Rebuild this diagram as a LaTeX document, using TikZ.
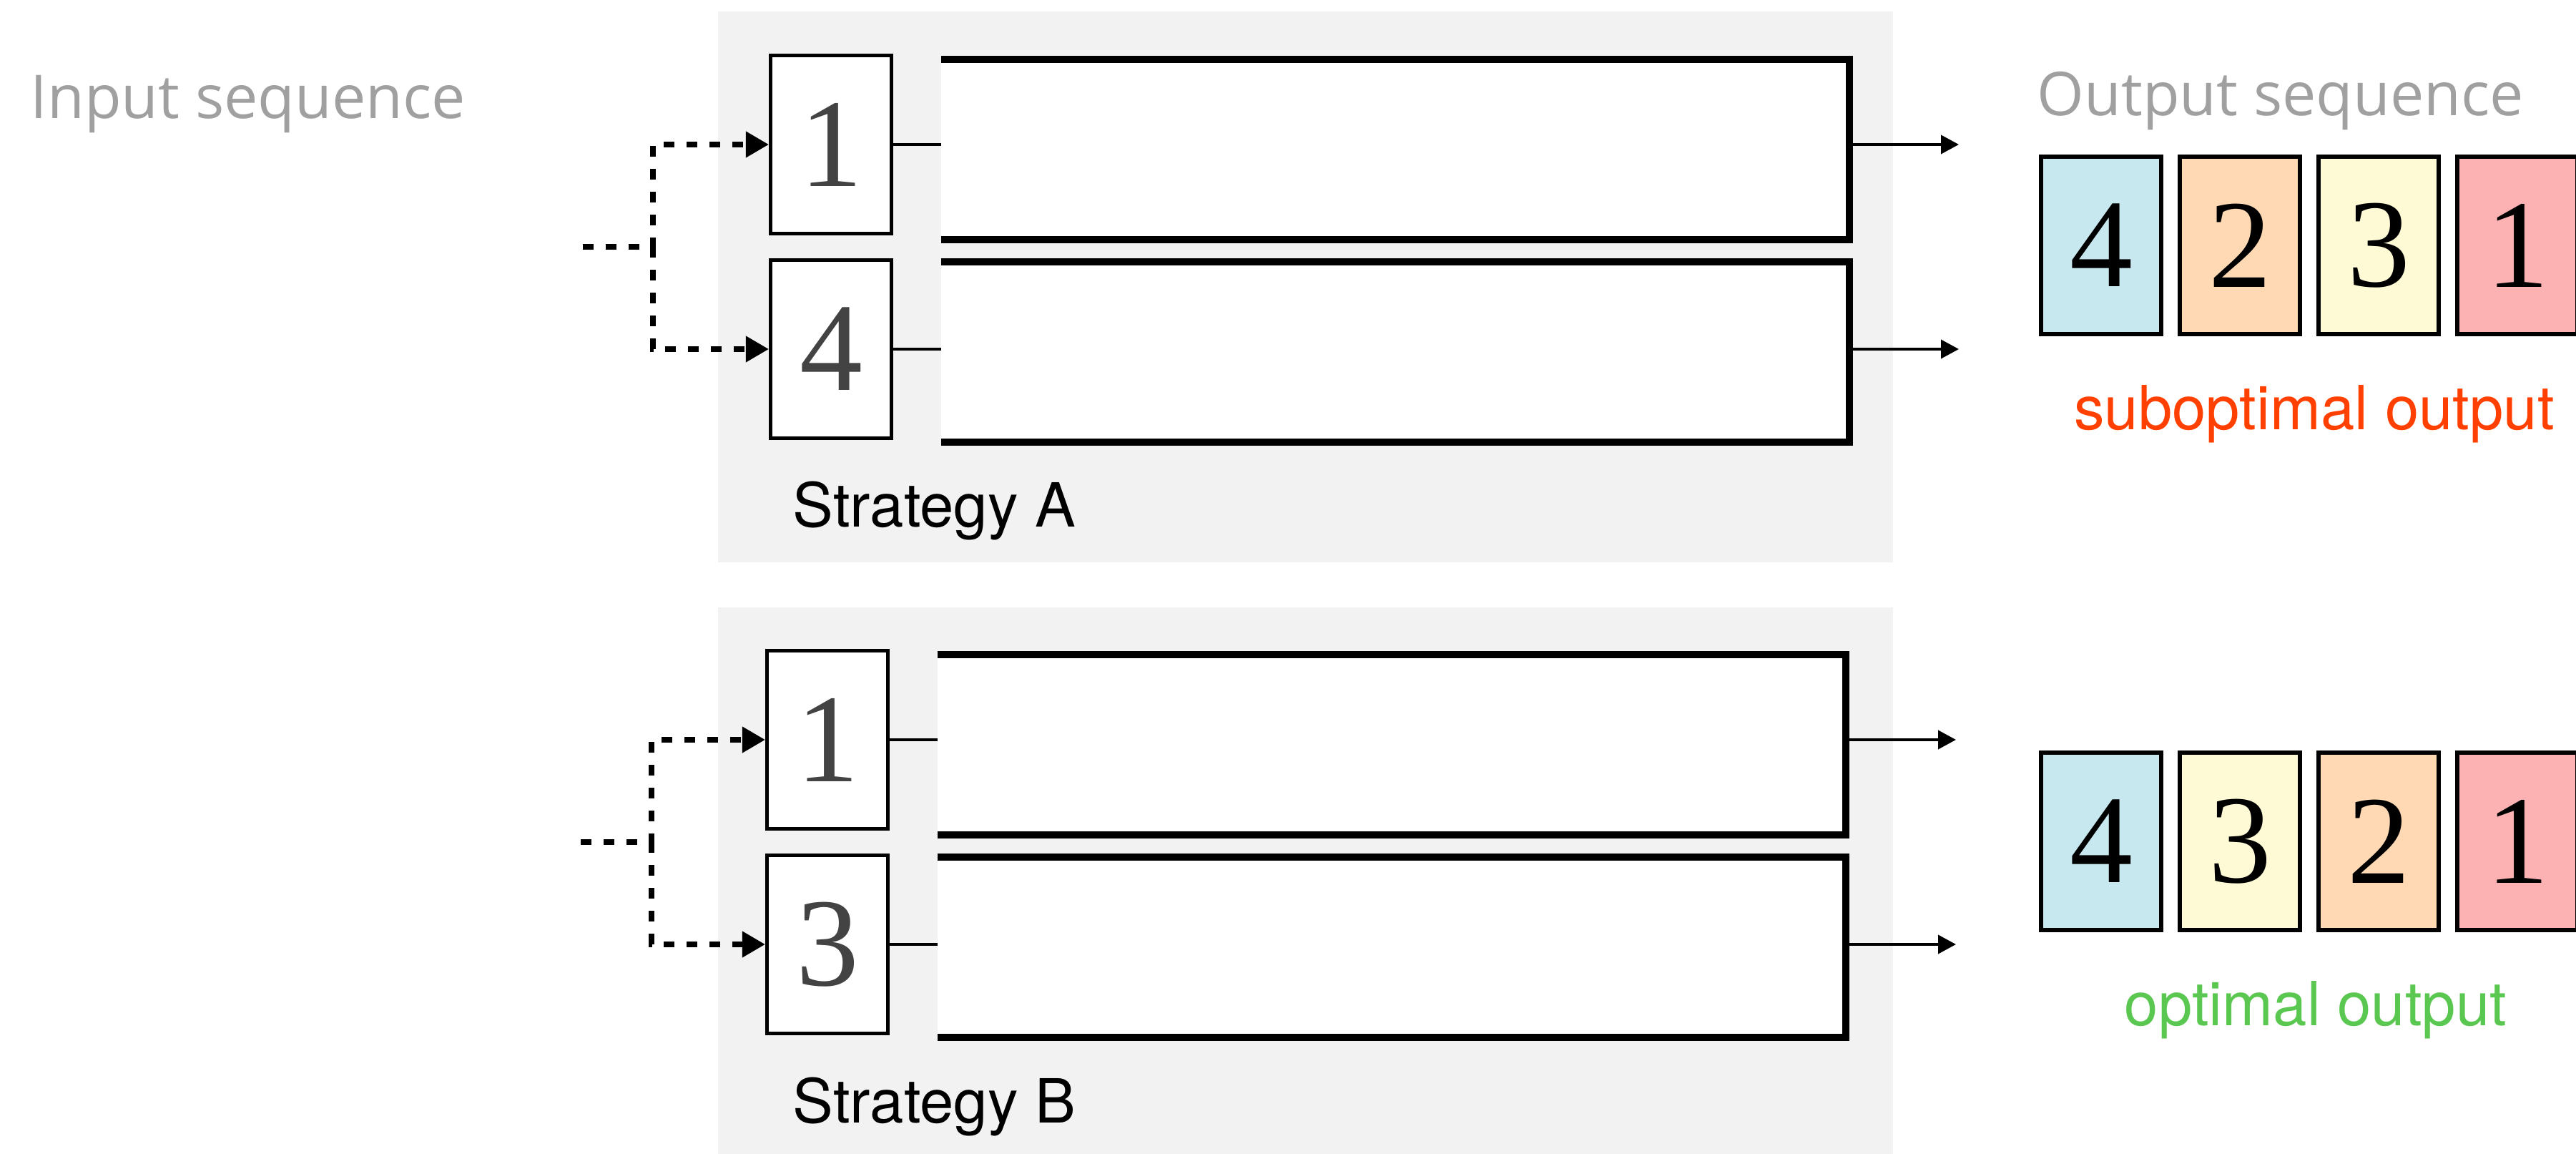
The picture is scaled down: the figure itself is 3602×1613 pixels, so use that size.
\documentclass[tikz,border=0pt]{standalone}
\usepackage{fontspec}
\usepackage{xcolor}
\usepackage{tikz}
\newfontfamily\helv{TeX Gyre Heros}
\newfontfamily\seqfont{Open Sans}
\newfontfamily\digitfont{Liberation Serif}
\definecolor{panelgray}{RGB}{242,242,242}
\definecolor{labelgray}{RGB}{160,160,160}
\definecolor{digitgray}{RGB}{67,67,67}
\definecolor{seqblue}{RGB}{200,232,240}
\definecolor{seqpeach}{RGB}{254,217,179}
\definecolor{seqyellow}{RGB}{255,250,214}
\definecolor{seqpink}{RGB}{252,177,178}
\definecolor{subred}{RGB}{255,64,0}
\definecolor{optgreen}{RGB}{90,200,80}
\usetikzlibrary{arrows.meta,positioning}
\tikzset{
  inbox/.style={draw, line width=1.42pt, fill=white, inner sep=0pt,
    minimum width=1.69cm, minimum height=2.49cm,
    font=\digitfont\fontsize{50}{50}\selectfont, text=digitgray},
  outbox/.style={draw, line width=1.7pt, inner sep=0pt,
    minimum width=1.68cm, minimum height=2.48cm,
    font=\digitfont\fontsize{50}{50}\selectfont, text=black},
  lane/.style={fill=white, inner sep=0pt, outer sep=0pt,
    minimum width=12.7cm, minimum height=2.51cm},
  lanewall/.style={line width=2.85pt},
  link/.style={line width=1.1pt},
  outarrow/.style={line width=1.1pt, -{Triangle[length=0.25cm,width=0.26cm]}},
  feed/.style={line width=2pt, dash pattern=on 0.15cm off 0.17cm,
    -{Triangle[length=0.32cm,width=0.35cm]}},
  seqlabel/.style={font=\seqfont\fontsize{24}{29}\selectfont, text=labelgray,
    inner sep=0pt, anchor=base west},
  stratlabel/.style={font=\helv\fontsize{24.2}{29}\selectfont, inner sep=0pt,
    anchor=base west},
  verdict/.style={font=\helv\fontsize{24.2}{29}\selectfont, inner sep=0pt,
    anchor=base},
}

\begin{document}
\begin{tikzpicture}[x=0.01cm, y=-0.01cm]
\useasboundingbox (0,0) rectangle (3602,1613);
% Panels
\fill[panelgray] (1004,16) rectangle (2647,786);
\fill[panelgray] (1004,849) rectangle (2647,1619);
% Sequence labels
\node[seqlabel] (inlabel) at (42,166) {Input sequence};
\node[seqlabel] (outlabel) at (2848,162) {Output sequence};
% Strategy A
\node[inbox] (inA1) at (1162,202) {1};
\node[inbox] (inA2) at (1162,488) {4};
\node[lane] (laneA1) at (1951,209) {};
\node[lane] (laneA2) at (1951,492) {};
\coordinate (endA1) at (2739,202);
\coordinate (endA2) at (2739,488);
\coordinate (srcA) at (815,345);
\coordinate (forkA) at (913,345);
\node[stratlabel] (stratA) at (1108,737) {Strategy A};
% Strategy B
\node[inbox] (inB1) at (1157,1034) {1};
\node[inbox] (inB2) at (1157,1320) {3};
\node[lane] (laneB1) at (1946,1041) {};
\node[lane] (laneB2) at (1946,1324) {};
\coordinate (endB1) at (2735,1034);
\coordinate (endB2) at (2735,1320);
\coordinate (srcB) at (812,1177);
\coordinate (forkB) at (911,1177);
\node[stratlabel] (stratB) at (1108,1569) {Strategy B};
% Lanes and connectors
\foreach \b/\l/\e in {inA1/laneA1/endA1, inA2/laneA2/endA2, inB1/laneB1/endB1, inB2/laneB2/endB2} {
    \draw[lanewall] (\l.north west) -- (\l.north east) -- (\l.south east) -- (\l.south west);
    \draw[link] (\b.east) -- (\b.east -| \l.west);
    \draw[outarrow] (\b.center -| \l.east) -- (\e);
}
% Input feeds
\draw[feed] (srcA) -- (forkA) |- (inA1.west);
\draw[feed] (forkA) |- (inA2.west);
\draw[feed] (srcB) -- (forkB) |- (inB1.west);
\draw[feed] (forkB) |- (inB2.west);
% Output sequences
\foreach \i/\d/\c in {1/4/seqblue, 2/2/seqpeach, 3/3/seqyellow, 4/1/seqpink}
    \node[outbox, fill=\c] (outA\i) at ({2938+194*(\i-1)},343) {\d};
\foreach \i/\d/\c in {1/4/seqblue, 2/3/seqyellow, 3/2/seqpeach, 4/1/seqpink}
    \node[outbox, fill=\c] (outB\i) at ({2938+194*(\i-1)},1176) {\d};
\node[verdict, text=subred] (subA) at (3236,601) {suboptimal output};
\node[verdict, text=optgreen] (optB) at (3238,1433) {optimal output};
\end{tikzpicture}
\end{document}
